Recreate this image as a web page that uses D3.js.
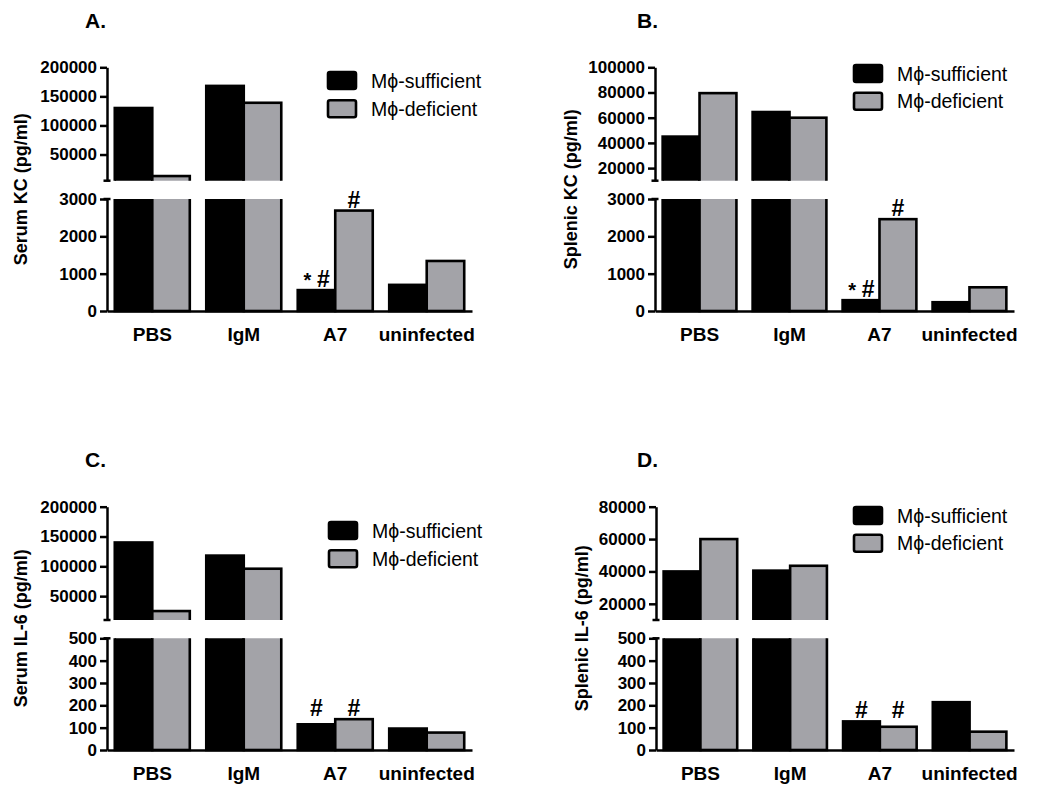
<!DOCTYPE html>
<html>
<head>
<meta charset="utf-8">
<script src="https://cdn.jsdelivr.net/npm/d3@7"></script>
<style>
  html, body { margin: 0; padding: 0; background: #fff; }
  svg { display: block; }
  text { font-family: "Liberation Sans", Arial, Helvetica, sans-serif; }
</style>
</head>
<body>
<div id="chart"></div>
<script>
// ---------------- data ----------------
const categories = ["PBS", "IgM", "A7", "uninfected"];
const seriesNames = ["M\u03D5-sufficient", "M\u03D5-deficient"];

const serumKCSufficient = [130000, 168000, 560, 700];
const serumKCDeficient = [13000, 139000, 2690, 1340];
const splenicKCSufficient = [45000, 64500, 290, 235];
const splenicKCDeficient = [79500, 60000, 2460, 635];
const serumIL6Sufficient = [140000, 118000, 115, 96];
const serumIL6Deficient = [25000, 96000, 138, 78];
const splenicIL6Sufficient = [40000, 40500, 128, 214];
const splenicIL6Deficient = [60000, 43500, 104, 82];

const ticksTopA = [50000, 100000, 150000, 200000];
const ticksBotA = [0, 1000, 2000, 3000];
const ticksTopB = [20000, 40000, 60000, 80000, 100000];
const ticksBotB = [0, 1000, 2000, 3000];
const ticksTopC = [50000, 100000, 150000, 200000];
const ticksBotC = [0, 100, 200, 300, 400, 500];
const ticksTopD = [20000, 40000, 60000, 80000];
const ticksBotD = [0, 100, 200, 300, 400, 500];

const annotA = [{cat: "A7", series: 0, marks: "*#"}, {cat: "A7", series: 1, marks: "#"}];
const annotB = [{cat: "A7", series: 0, marks: "*#"}, {cat: "A7", series: 1, marks: "#"}];
const annotC = [{cat: "A7", series: 0, marks: "#"}, {cat: "A7", series: 1, marks: "#"}];
const annotD = [{cat: "A7", series: 0, marks: "#"}, {cat: "A7", series: 1, marks: "#"}];

// ---------------- layout ----------------
const W = 1050, H = 811;
const GRAY = "#a3a3a8";
const fills = ["#000000", GRAY];

const svg = d3.select("#chart").append("svg")
  .attr("width", W).attr("height", H)
  .attr("viewBox", `0 0 ${W} ${H}`);

const defs = svg.append("defs");
let clipId = 0;

function panel(cfg) {
  const g = svg.append("g");
  const x = d3.scaleBand().domain(categories)
    .range([cfg.axisX, cfg.xRight]).paddingInner(0.18).paddingOuter(0.085);
  const xs = d3.scaleBand().domain([0, 1]).range([0, x.bandwidth()]);
  const yTop = d3.scaleLinear().domain(cfg.topDomain).range([cfg.topY1, cfg.topY0]);
  const yBot = d3.scaleLinear().domain(cfg.botDomain).range([cfg.botY1, cfg.botY0]);
  const series = [cfg.s0, cfg.s1];

  // clip paths
  const cTop = "clip" + (clipId++);
  defs.append("clipPath").attr("id", cTop).append("rect")
    .attr("x", 0).attr("y", 0).attr("width", W).attr("height", cfg.topY1);
  const cBot = "clip" + (clipId++);
  defs.append("clipPath").attr("id", cBot).append("rect")
    .attr("x", 0).attr("y", cfg.botY0).attr("width", W).attr("height", H - cfg.botY0);

  const flat = [];
  categories.forEach((c, i) => series.forEach((arr, s) => flat.push({c, s, v: arr[i]})));

  // bottom segment bars
  g.append("g").attr("clip-path", `url(#${cBot})`)
    .selectAll("rect").data(flat).join("rect")
    .attr("x", d => x(d.c) + xs(d.s))
    .attr("width", xs.bandwidth())
    .attr("y", d => d.v > cfg.botDomain[1] ? cfg.botY0 - 10 : yBot(d.v))
    .attr("height", d => cfg.botY1 - (d.v > cfg.botDomain[1] ? cfg.botY0 - 10 : yBot(d.v)))
    .attr("fill", d => fills[d.s])
    .attr("stroke", "#000").attr("stroke-width", 2.6);

  // top segment bars
  g.append("g").attr("clip-path", `url(#${cTop})`)
    .selectAll("rect").data(flat.filter(d => d.v > cfg.topDomain[0])).join("rect")
    .attr("x", d => x(d.c) + xs(d.s))
    .attr("width", xs.bandwidth())
    .attr("y", d => yTop(d.v))
    .attr("height", d => cfg.topY1 + 10 - yTop(d.v))
    .attr("fill", d => fills[d.s])
    .attr("stroke", "#000").attr("stroke-width", 2.6);

  // axes
  const styleAxis = sel => {
    sel.select(".domain").attr("stroke", "#000").attr("stroke-width", 2.5);
    sel.selectAll(".tick line").attr("stroke", "#000").attr("stroke-width", 2.5);
    sel.selectAll(".tick text").attr("fill", "#000")
      .style("font-size", "17px").style("font-weight", "bold")
      .style("font-family", '"Liberation Sans", Arial, sans-serif');
  };
  g.append("g").attr("transform", `translate(${cfg.axisX},0)`)
    .call(d3.axisLeft(yTop).tickValues(cfg.topTicks).tickFormat(d3.format("d"))
      .tickSize(7).tickSizeOuter(0).tickPadding(3))
    .call(styleAxis);
  g.append("g").attr("transform", `translate(${cfg.axisX},0)`)
    .call(d3.axisLeft(yBot).tickValues(cfg.botTicks).tickFormat(d3.format("d"))
      .tickSize(7).tickSizeOuter(0).tickPadding(3))
    .call(styleAxis);
  // break caps
  [cfg.topY1, cfg.botY0].forEach(yy => {
    g.append("line").attr("x1", cfg.axisX - 3.5).attr("x2", cfg.axisX + 3.5)
      .attr("y1", yy).attr("y2", yy).attr("stroke", "#000").attr("stroke-width", 2.5);
  });
  // x axis
  const xa = g.append("g").attr("transform", `translate(0,${cfg.botY1})`)
    .call(d3.axisBottom(x).tickSize(0).tickSizeOuter(0).tickPadding(17));
  xa.select(".domain").attr("stroke", "#000").attr("stroke-width", 2.5);
  xa.selectAll(".tick text").attr("fill", "#000")
    .style("font-size", "19px").style("font-weight", "bold")
    .style("font-family", '"Liberation Sans", Arial, sans-serif');

  // y title
  g.append("text")
    .attr("transform", `translate(${cfg.yLabelX},${(cfg.topY0 + cfg.botY1) / 2}) rotate(-90)`)
    .attr("text-anchor", "middle")
    .style("font-size", "18px").style("font-weight", "bold")
    .text(cfg.yLabel);

  // panel title
  g.append("text").attr("x", cfg.titleX).attr("y", cfg.titleY)
    .style("font-size", "21px").style("font-weight", "bold")
    .text(cfg.title);

  // legend
  const lg = g.append("g");
  seriesNames.forEach((name, s) => {
    const ly = cfg.legendY + s * cfg.legendStep;
    lg.append("rect").attr("x", cfg.legendX).attr("y", ly)
      .attr("width", 28).attr("height", 17).attr("rx", 2)
      .attr("fill", fills[s]).attr("stroke", "#000").attr("stroke-width", 2.6);
    lg.append("text").attr("x", cfg.legendX + 43).attr("y", ly + 8.5)
      .attr("dy", "0.36em")
      .style("font-size", "19.5px")
      .text(name);
  });

  // annotations
  cfg.annot.forEach(a => {
    const i = categories.indexOf(a.cat);
    const v = cfg.groupLevel ? Math.max(cfg.s0[i], cfg.s1[i]) : series[a.series][i];
    const cx = x(a.cat) + xs(a.series) + xs.bandwidth() / 2;
    const by = yBot(v) - 3;
    if (a.marks === "*#") {
      g.append("text").attr("x", cx - 9).attr("y", by).attr("text-anchor", "middle")
        .style("font-size", "20px").style("font-weight", "bold").text("*");
      g.append("text").attr("x", cx + 7).attr("y", by).attr("text-anchor", "middle")
        .style("font-size", "23px").style("font-weight", "bold").text("#");
    } else {
      g.append("text").attr("x", cx).attr("y", by).attr("text-anchor", "middle")
        .style("font-size", "23px").style("font-weight", "bold").text("#");
    }
  });
}

panel({
  title: "A.", titleX: 85, titleY: 28,
  axisX: 107, xRight: 472,
  topY0: 67.3, topY1: 180.7, botY0: 199, botY1: 311,
  topDomain: [5000, 200000], botDomain: [0, 3000],
  topTicks: ticksTopA, botTicks: ticksBotA,
  s0: serumKCSufficient, s1: serumKCDeficient,
  yLabel: "Serum KC (pg/ml)", yLabelX: 27,
  legendX: 328, legendY: 72, legendStep: 28.3,
  annot: annotA, groupLevel: false
});
panel({
  title: "B.", titleX: 637, titleY: 28,
  axisX: 655, xRight: 1014,
  topY0: 67.3, topY1: 180.7, botY0: 199, botY1: 311,
  topDomain: [10000, 100000], botDomain: [0, 3000],
  topTicks: ticksTopB, botTicks: ticksBotB,
  s0: splenicKCSufficient, s1: splenicKCDeficient,
  yLabel: "Splenic KC (pg/ml)", yLabelX: 577,
  legendX: 854, legendY: 65, legendStep: 27.7,
  annot: annotB, groupLevel: false
});
panel({
  title: "C.", titleX: 85, titleY: 467,
  axisX: 107, xRight: 472,
  topY0: 506.7, topY1: 620, botY0: 638.3, botY1: 750,
  topDomain: [10000, 200000], botDomain: [0, 500],
  topTicks: ticksTopC, botTicks: ticksBotC,
  s0: serumIL6Sufficient, s1: serumIL6Deficient,
  yLabel: "Serum IL-6 (pg/ml)", yLabelX: 27,
  legendX: 329, legendY: 522, legendStep: 28.3,
  annot: annotC, groupLevel: true
});
panel({
  title: "D.", titleX: 637, titleY: 467,
  axisX: 656, xRight: 1014,
  topY0: 506.7, topY1: 620, botY0: 638.3, botY1: 750,
  topDomain: [10000, 80000], botDomain: [0, 500],
  topTicks: ticksTopD, botTicks: ticksBotD,
  s0: splenicIL6Sufficient, s1: splenicIL6Deficient,
  yLabel: "Splenic IL-6 (pg/ml)", yLabelX: 588,
  legendX: 854, legendY: 507, legendStep: 27.7,
  annot: annotD, groupLevel: true
});
</script>
</body>
</html>
